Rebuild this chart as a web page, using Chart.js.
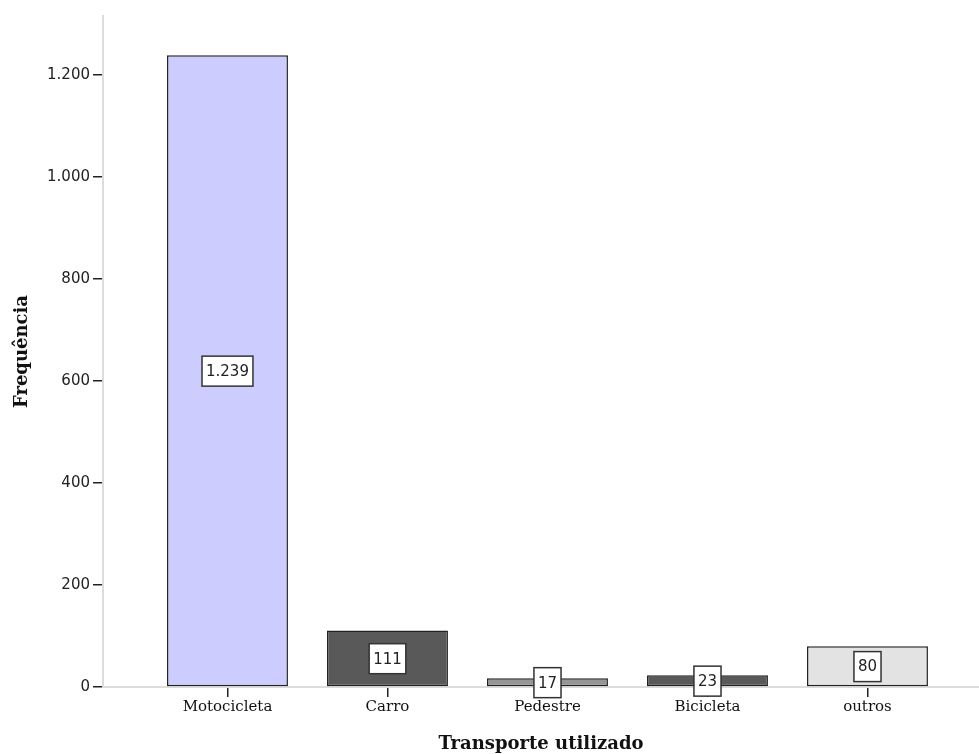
<!DOCTYPE html>
<html>
<head>
<meta charset="utf-8">
<script src="https://cdn.jsdelivr.net/npm/chart.js@4"></script>
<style>
  html, body { margin: 0; padding: 0; background: #ffffff; }
  #wrap { width: 979px; height: 754px; }
</style>
</head>
<body>
<div id="wrap"><canvas id="c" width="979" height="754"></canvas></div>
<script>
// Transport used, frequency counts
const categories = ['Motocicleta', 'Carro', 'Pedestre', 'Bicicleta', 'outros'];
const frequencies = [1239, 111, 17, 23, 80];
const barColors = ['#ccccff', '#595959', '#969696', '#595959', '#e3e3e3'];
const yTickValues = [0, 200, 400, 600, 800, 1000, 1200];

// thousands separator with a dot
function fmt(v) {
  return String(Math.round(v)).replace(/\B(?=(\d{3})+(?!\d))/g, '.');
}

// value boxes centred at half the bar height
const valueBoxes = {
  id: 'valueBoxes',
  afterDatasetsDraw(chart) {
    const ctx = chart.ctx;
    const yScale = chart.scales.y;
    const meta = chart.getDatasetMeta(0);
    ctx.save();
    ctx.font = '15px "DejaVu Sans"';
    ctx.textAlign = 'center';
    ctx.textBaseline = 'middle';
    meta.data.forEach((bar, i) => {
      const v = frequencies[i];
      const text = fmt(v);
      const cx = bar.x;
      const cy = yScale.getPixelForValue(v / 2);
      const w = ctx.measureText(text).width + 8;
      const h = 30;
      ctx.fillStyle = '#ffffff';
      ctx.fillRect(cx - w / 2, cy - h / 2, w, h);
      ctx.lineWidth = 1.5;
      ctx.strokeStyle = '#333333';
      ctx.strokeRect(cx - w / 2, cy - h / 2, w, h);
      ctx.fillStyle = '#222222';
      ctx.fillText(text, cx, cy + 1);
    });
    ctx.restore();
  }
};

new Chart(document.getElementById('c'), {
  type: 'bar',
  data: {
    datasets: [{
      data: frequencies.map((v, i) => ({ x: i, y: v })),
      backgroundColor: barColors,
      borderColor: '#222222',
      borderWidth: 1.5,
      borderSkipped: false,
      barPercentage: 0.756,
      categoryPercentage: 1
    }]
  },
  options: {
    responsive: false,
    animation: false,
    devicePixelRatio: 1,
    layout: { padding: { top: 16, left: 0, right: 0, bottom: 0 } },
    plugins: {
      legend: { display: false },
      tooltip: { enabled: false }
    },
    scales: {
      x: {
        type: 'linear',
        offset: false,
        min: -0.778,
        max: 4.697,
        afterBuildTicks: s => { s.ticks = categories.map((c, i) => ({ value: i })); },
        afterFit: s => { s.height = 67; },
        grid: { offset: false, drawOnChartArea: false, drawTicks: true, tickLength: 10, color: '#222222', lineWidth: 1.5 },
        border: { display: true, color: '#dcdcdc', width: 2 },
        ticks: {
          autoSkip: false,
          maxRotation: 0,
          padding: 1,
          color: '#111111',
          font: { family: '"DejaVu Serif"', size: 15 },
          callback: v => categories[v]
        },
        title: {
          display: true,
          text: 'Transporte utilizado',
          color: '#111111',
          font: { family: '"DejaVu Serif"', size: 18, weight: 'bold' },
          padding: { top: 0, bottom: -1 }
        }
      },
      y: {
        min: 0,
        max: 1316,
        afterBuildTicks: s => { s.ticks = yTickValues.map(v => ({ value: v })); },
        afterFit: s => { s.width = 103; },
        grid: { drawOnChartArea: false, drawTicks: true, tickLength: 10, color: '#222222', lineWidth: 1.5 },
        border: { display: true, color: '#dcdcdc', width: 2 },
        ticks: {
          padding: 3,
          color: '#222222',
          font: { family: '"DejaVu Sans"', size: 15 },
          callback: v => fmt(v)
        },
        title: {
          display: true,
          text: 'Frequência',
          color: '#111111',
          font: { family: '"DejaVu Serif"', size: 18, weight: 'bold' },
          padding: { top: 12, bottom: 0 }
        }
      }
    }
  },
  plugins: [valueBoxes]
});
</script>
</body>
</html>
